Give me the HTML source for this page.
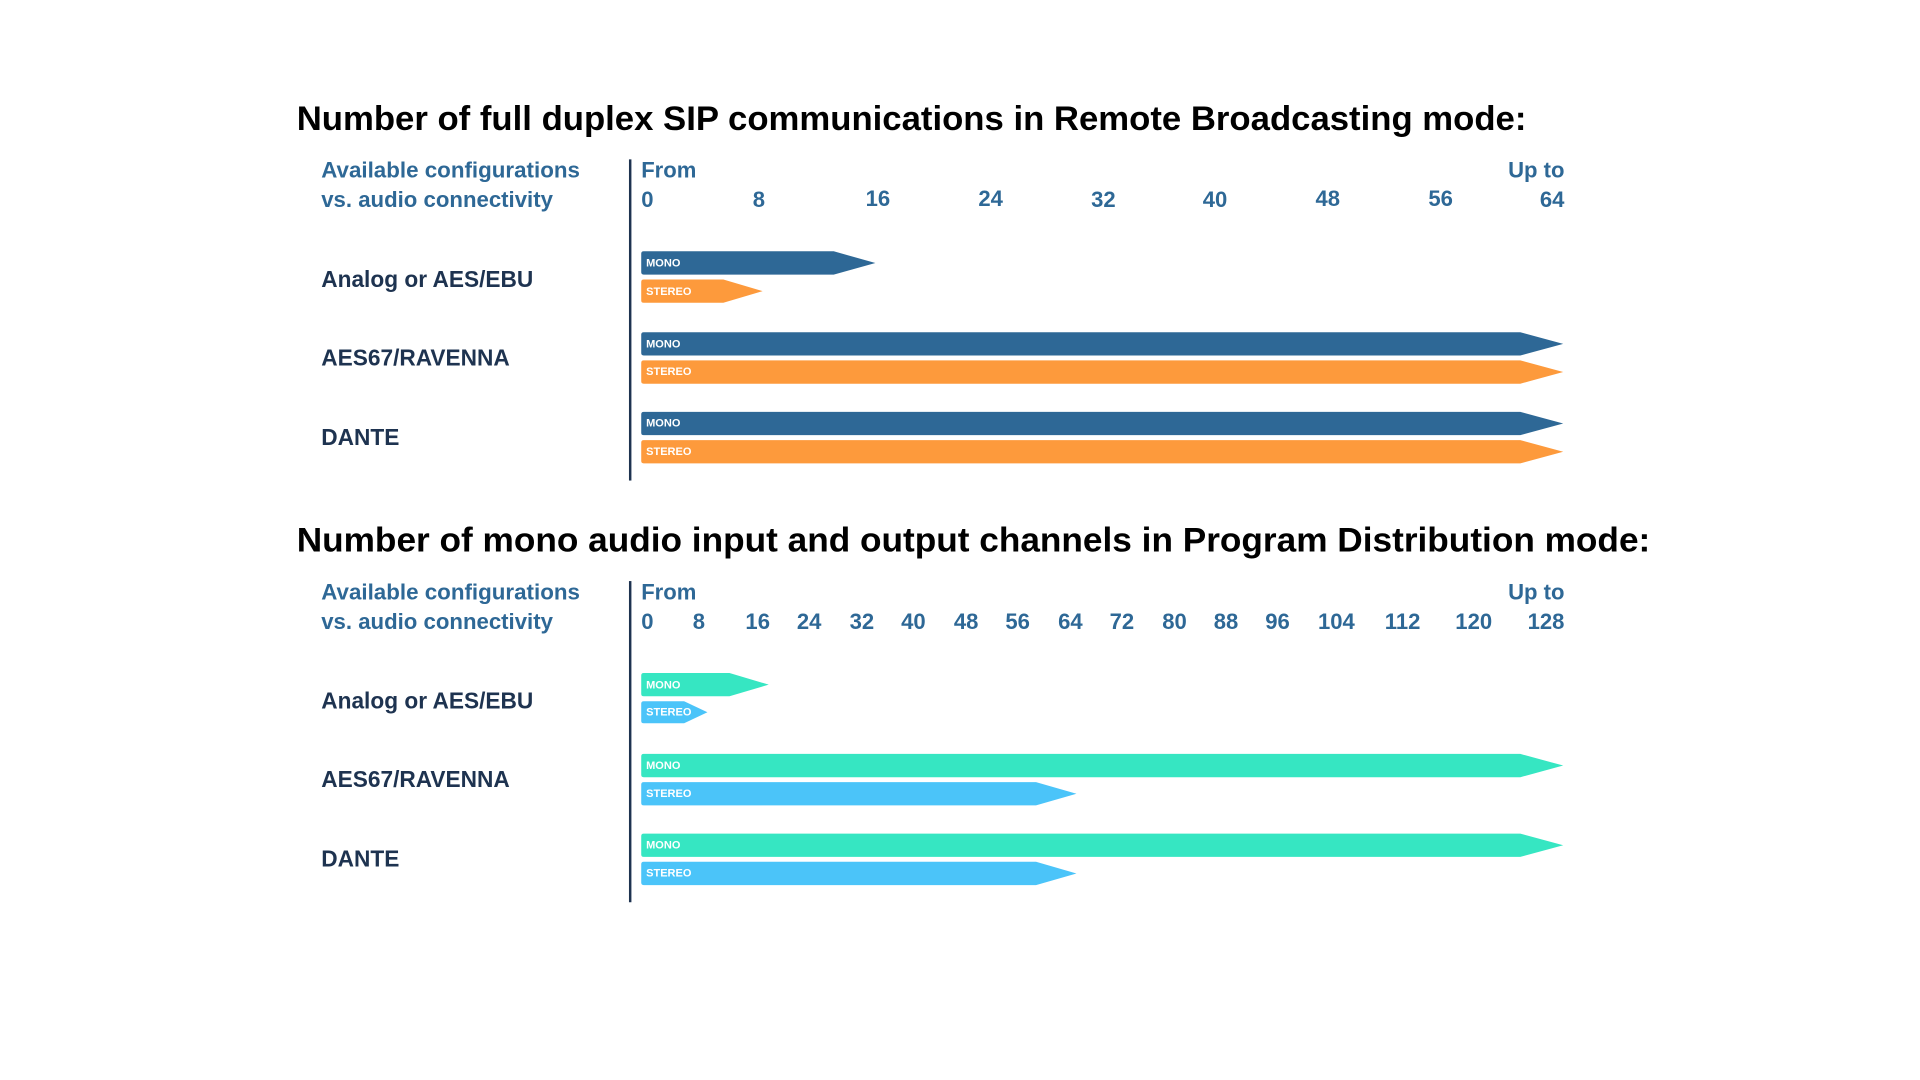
<!DOCTYPE html>
<html><head><meta charset="utf-8"><style>
html,body{margin:0;padding:0;background:#fff;}
svg{display:block;}
text{font-family:"Liberation Sans",Arial,sans-serif;font-weight:bold;}
.t{font-size:28px;fill:#000;}
.h{font-size:18px;fill:#2e6896;}
.l{font-size:18.5px;fill:#1e3350;}
.b{font-size:9px;fill:#fff;}
</style></head><body>
<svg width="1920" height="1080" viewBox="0 0 1566 881" preserveAspectRatio="none">
<defs>
<g id="hdr">
<text class="h" x="262" y="145" textLength="211" lengthAdjust="spacingAndGlyphs">Available configurations</text>
<text class="h" x="262" y="169" textLength="189" lengthAdjust="spacingAndGlyphs">vs. audio connectivity</text>
<text class="h" x="523" y="145">From</text>
<text class="h" x="1276" y="145" text-anchor="end">Up to</text>
<rect x="513" y="130" width="2" height="262" fill="#1e3350"/>
<text class="l" x="262" y="234">Analog or AES/EBU</text>
<text class="l" x="262" y="298">AES67/RAVENNA</text>
<text class="l" x="262" y="363">DANTE</text>
</g>
</defs>
<text class="t" x="242" y="106" textLength="1003" lengthAdjust="spacingAndGlyphs">Number of full duplex SIP communications in Remote Broadcasting mode:</text>
<use href="#hdr"/>
<g class="h" text-anchor="middle">
<text x="528" y="169">0</text><text x="619" y="169">8</text><text x="716" y="168">16</text><text x="808" y="168">24</text><text x="900" y="169">32</text><text x="991" y="169">40</text><text x="1083" y="168">48</text><text x="1175" y="168">56</text><text x="1266" y="169">64</text>
</g>
<g>
<path d="M525,205 H680 L714,214.5 L680,224 H525 Q523,224 523,222 V207 Q523,205 525,205Z" fill="#2e6896"/>
<path d="M525,228 H590 L622,237.5 L590,247 H525 Q523,247 523,245 V230 Q523,228 525,228Z" fill="#fd9a3c"/>
<path d="M525,271 H1240 L1275,280.5 L1240,290 H525 Q523,290 523,288 V273 Q523,271 525,271Z" fill="#2e6896"/>
<path d="M525,294 H1240 L1275,303.5 L1240,313 H525 Q523,313 523,311 V296 Q523,294 525,294Z" fill="#fd9a3c"/>
<path d="M525,336 H1240 L1275,345.5 L1240,355 H525 Q523,355 523,353 V338 Q523,336 525,336Z" fill="#2e6896"/>
<path d="M525,359 H1240 L1275,368.5 L1240,378 H525 Q523,378 523,376 V361 Q523,359 525,359Z" fill="#fd9a3c"/>
<text class="b" x="527" y="217.5">MONO</text><text class="b" x="527" y="240.5">STEREO</text>
<text class="b" x="527" y="283.5">MONO</text><text class="b" x="527" y="306">STEREO</text>
<text class="b" x="527" y="348">MONO</text><text class="b" x="527" y="371">STEREO</text>
</g>

<text class="t" x="242" y="450" textLength="1104" lengthAdjust="spacingAndGlyphs">Number of mono audio input and output channels in Program Distribution mode:</text>
<use href="#hdr" y="344"/>
<g class="h" text-anchor="middle">
<text x="528" y="513">0</text><text x="570" y="513">8</text><text x="618" y="513">16</text><text x="660" y="513">24</text><text x="703" y="513">32</text><text x="745" y="513">40</text><text x="788" y="513">48</text><text x="830" y="513">56</text><text x="873" y="513">64</text><text x="915" y="513">72</text><text x="958" y="513">80</text><text x="1000" y="513">88</text><text x="1042" y="513">96</text><text x="1090" y="513">104</text><text x="1144" y="513">112</text><text x="1202" y="513">120</text><text x="1261" y="513">128</text>
</g>
<g>
<path d="M525,549 H595 L627,558.5 L595,568 H525 Q523,568 523,566 V551 Q523,549 525,549Z" fill="#36e6c2"/>
<path d="M525,572 H558 L577,581 L558,590 H525 Q523,590 523,588 V574 Q523,572 525,572Z" fill="#4bc4f9"/>
<path d="M525,615 H1240 L1275,624.5 L1240,634 H525 Q523,634 523,632 V617 Q523,615 525,615Z" fill="#36e6c2"/>
<path d="M525,638 H845 L878,647.5 L845,657 H525 Q523,657 523,655 V640 Q523,638 525,638Z" fill="#4bc4f9"/>
<path d="M525,680 H1240 L1275,689.5 L1240,699 H525 Q523,699 523,697 V682 Q523,680 525,680Z" fill="#36e6c2"/>
<path d="M525,703 H845 L878,712.5 L845,722 H525 Q523,722 523,720 V705 Q523,703 525,703Z" fill="#4bc4f9"/>
<text class="b" x="527" y="561.5">MONO</text><text class="b" x="527" y="583.5">STEREO</text>
<text class="b" x="527" y="627.5">MONO</text><text class="b" x="527" y="650">STEREO</text>
<text class="b" x="527" y="692">MONO</text><text class="b" x="527" y="715">STEREO</text>
</g>
</svg>
</body></html>
